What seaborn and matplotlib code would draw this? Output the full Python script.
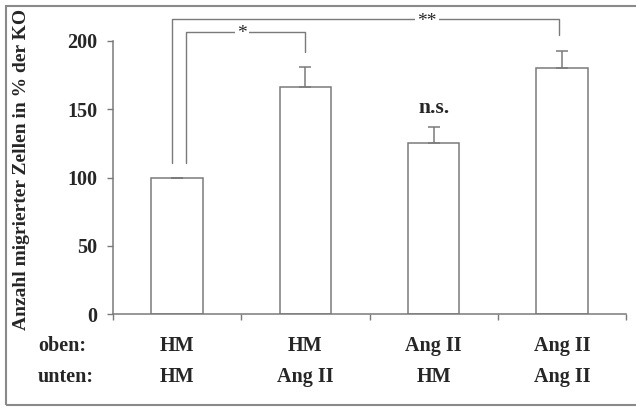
import matplotlib
matplotlib.use("Agg")
import matplotlib.pyplot as plt
import seaborn as sns
import pandas as pd
from matplotlib.patches import Rectangle

# Migration assay: upper / lower chamber conditions
oben = ["HM", "HM", "Ang II", "Ang II"]
unten = ["HM", "Ang II", "HM", "Ang II"]
mittelwert = [100, 166, 125, 180]
fehler = [0, 15, 12, 13]
y_ticks = [0, 50, 100, 150, 200]

gruppen = [f"{o}/{u}" for o, u in zip(oben, unten)]
df = pd.DataFrame({"gruppe": gruppen, "wert": mittelwert})

sns.set_style("white")
plt.rcParams["font.family"] = ["Liberation Serif", "DejaVu Serif"]
plt.rcParams["font.weight"] = "bold"

LINE = "#7a7a7a"
FS = 14.5
W, H = 636, 407

fig = plt.figure(figsize=(W / 100, H / 100), dpi=100)
ax = fig.add_axes([113 / W, 93 / H, 513 / W, 273 / H])

sns.barplot(data=df, x="gruppe", y="wert", color="white", edgecolor=LINE,
            linewidth=1.1, width=0.4, errorbar=None, ax=ax)
for p in ax.patches:
    p.set_facecolor("white")
    p.set_edgecolor(LINE)

# upward-only error bars
ax.errorbar(range(len(mittelwert)), mittelwert,
            yerr=[[0] * len(fehler), fehler], fmt="none",
            ecolor=LINE, elinewidth=1.1, capsize=4.3, capthick=1.1)

ax.set_xlim(-0.5, 3.5)
ax.set_ylim(0, 200)
ax.set_yticks(y_ticks)
ax.set_yticklabels([str(v) for v in y_ticks], fontsize=FS, fontweight="bold")
ax.set_xticks([-0.5, 0.5, 1.5, 2.5, 3.5])
ax.set_xticklabels([""] * 5)
ax.set_xlabel("")
ax.tick_params(axis="both", direction="out", length=4.3, width=1.0,
               color=LINE, left=True, bottom=True)
ax.tick_params(axis="y", pad=7)
for s in ["top", "right"]:
    ax.spines[s].set_visible(False)
for s in ["left", "bottom"]:
    ax.spines[s].set_color(LINE)
    ax.spines[s].set_linewidth(1.1)

ax.set_ylabel("Anzahl migrierter Zellen in % der KO", fontsize=FS - 0.5,
              fontweight="bold", va="center")
ax.yaxis.set_label_coords((22 - 113) / 513, 0.531)

# category labels in two rows
xt = ax.get_xaxis_transform()
for i, (o, u) in enumerate(zip(oben, unten)):
    ax.text(i, (314 - 346) / 273, o, transform=xt, ha="center", va="center",
            fontsize=FS, fontweight="bold")
    ax.text(i, (314 - 377) / 273, u, transform=xt, ha="center", va="center",
            fontsize=FS, fontweight="bold")
fig.text(38 / W, (H - 346) / H, "oben:", ha="left", va="center",
         fontsize=FS, fontweight="bold")
fig.text(38 / W, (H - 377) / H, "unten:", ha="left", va="center",
         fontsize=FS, fontweight="bold")

# significance brackets
ax.plot([-0.041, -0.041, 2.98, 2.98], [110.4, 215.9, 215.9, 204.4],
        color=LINE, lw=1.0, clip_on=False)
ax.plot([0.068, 0.068, 1.0, 1.0], [110.4, 206.8, 206.8, 192.2],
        color=LINE, lw=1.0, clip_on=False)
ax.text(0.507, 206.8, "*", ha="center", va="center_baseline", fontsize=14,
        fontweight="normal",
        bbox=dict(facecolor="white", edgecolor="none", pad=1.5), clip_on=False)
ax.text(1.946, 215.9, "**", ha="center", va="center_baseline", fontsize=14,
        fontweight="normal",
        bbox=dict(facecolor="white", edgecolor="none", pad=1.5), clip_on=False)
ax.text(2.0, mittelwert[2] + fehler[2] + 14, "n.s.", ha="center",
        va="center", fontsize=FS + 1, fontweight="bold")

# outer frame
fig.patches.append(Rectangle((6 / W, 2 / H), 1.0, (H - 8) / H,
                             transform=fig.transFigure, fill=False,
                             edgecolor="#8a8a8a", lw=1.5))

fig.savefig("out.png", dpi=100)
